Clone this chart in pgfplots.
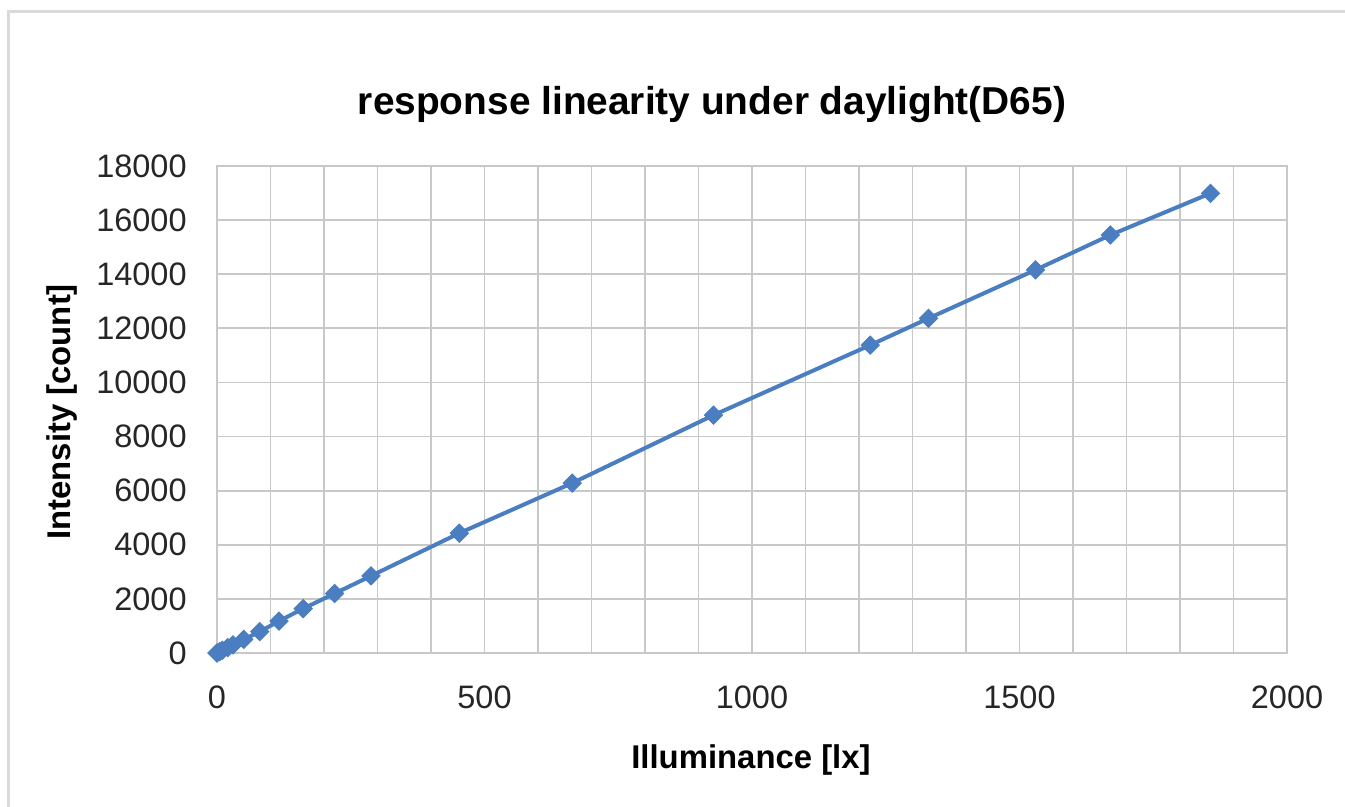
\documentclass[border=0pt]{standalone}
\usepackage{fontspec}
\setmainfont{Liberation Sans}
\usepackage{pgfplots}
\pgfplotsset{compat=1.18}
\definecolor{series}{RGB}{74,126,193}
\definecolor{gridc}{RGB}{200,200,200}
\definecolor{framec}{RGB}{218,218,218}
\pgfplotstableread{
x y
0 0
5 50
10 100
20 200
30 300
50 500
80 790
116 1180
161 1640
220 2200
288 2850
453 4430
664 6280
928 8790
1221 11380
1330 12370
1530 14160
1670 15450
1857 16990
}\datatable
\begin{document}
\begin{tikzpicture}
\path[use as bounding box] (0,0) rectangle (672.5bp,403.5bp);
\draw[framec, line width=1.5bp] (4bp,0) -- (4bp,397.5bp) -- (672.5bp,397.5bp);
\begin{axis}[
  at={(108.5bp,77bp)}, anchor=south west,
  scale only axis, width=535bp, height=243.5bp,
  xmin=0, xmax=2000, ymin=0, ymax=18000,
  xtick={0,500,...,2000},
  minor xtick={100,200,...,1900},
  ytick={0,2000,...,18000},
  grid=both,
  major grid style={gridc, line width=0.9bp},
  minor grid style={gridc, line width=0.9bp},
  axis line style={gridc, line width=0.9bp},
  major tick length=0pt, minor tick length=0pt,
  /pgf/number format/assume math mode=true,
  /pgf/number format/1000 sep={},
  scaled ticks=false,
  ticklabel style={font=\fontsize{16.3}{19}\selectfont, text=black!85},
  xticklabel style={anchor=center, inner sep=0pt, yshift=-22bp},
  yticklabel style={anchor=east, inner sep=0pt, xshift=-15bp},
  title={response linearity under daylight(D65)},
  title style={at={(axis description cs:0.4626,1.102)}, anchor=center, font=\fontsize{19.5}{23}\selectfont\bfseries},
  xlabel={Illuminance [lx]},
  xlabel style={at={(axis description cs:0.499,-0.2197)}, anchor=center, font=\fontsize{16.5}{19}\selectfont\bfseries},
  ylabel={Intensity [count]},
  ylabel style={at={(axis description cs:-0.1449,0.495)}, anchor=center, rotate=0, font=\fontsize{16.5}{19}\selectfont\bfseries},
  clip=false,
]
\addplot[series, line width=2bp, mark=square*, mark size=3.2bp, mark options={rotate=45, fill=series, draw=series, line width=0.5bp}] table[x=x,y=y] {\datatable};
\end{axis}
\end{tikzpicture}
\end{document}
